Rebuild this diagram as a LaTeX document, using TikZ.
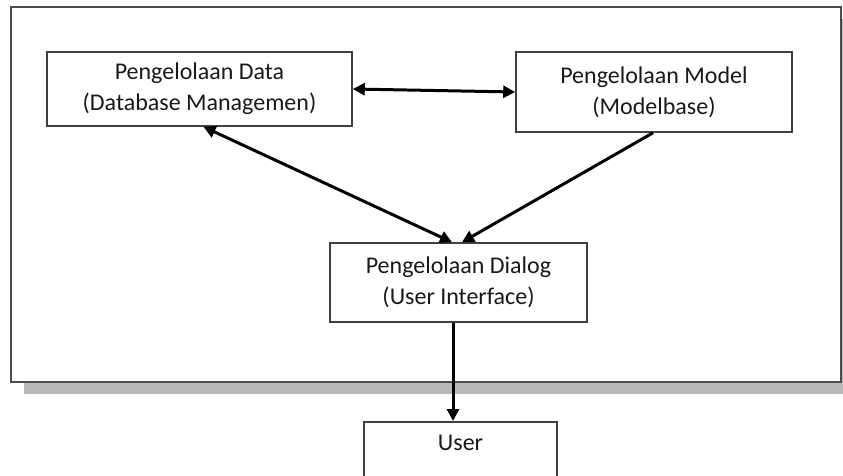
\documentclass[tikz,border=0pt]{standalone}
\usepackage{fontspec}
\setmainfont{Carlito}
\usetikzlibrary{arrows.meta}
\begin{document}
\begin{tikzpicture}[x=1pt,y=-1pt,
  box/.style={draw=black!75,line width=1.6,fill=white,inner sep=0,align=center,
    font=\fontsize{24}{31}\selectfont,text=black!90},
  arr/.style={line width=3,-{Triangle[length=12,width=12]}},
  darr/.style={line width=3,{Triangle[length=12,width=12]}-{Triangle[length=12,width=12]}}]
\useasboundingbox (0,0) rectangle (843,476);
\clip (0,0) rectangle (843,476);
% shadow and outer frame
\fill[gray!55] (24,383) rectangle (843,394);
\fill[gray!55] (842,19) rectangle (843,394);
\draw[draw=black!70,line width=2,fill=white] (11,7) rectangle (841,382);
% nodes
\node[box,minimum width=305,minimum height=74] (data) at (199.5,89)
  {Pengelolaan Data\\(Database Managemen)};
\node[box,minimum width=276,minimum height=80] (model) at (654,92)
  {Pengelolaan Model\\(Modelbase)};
\node[box,minimum width=257,minimum height=79] (dialog) at (458.5,282.5)
  {Pengelolaan Dialog\\(User Interface)};
\node[box,minimum width=193,text height=29,text depth=60,anchor=north] (user) at (460.5,421)
  {User};
% connectors
\draw[darr] (data.east) -- (model.west);
\draw[darr] ([xshift=4]data.south) -- ([xshift=-6.5]dialog.north);
\draw[arr] ([xshift=-1]model.south) -- ([xshift=3.5]dialog.north);
\draw[arr] ([xshift=-5.5]dialog.south) -- ([xshift=-5.5]dialog.south |- user.north);
\end{tikzpicture}
\end{document}
